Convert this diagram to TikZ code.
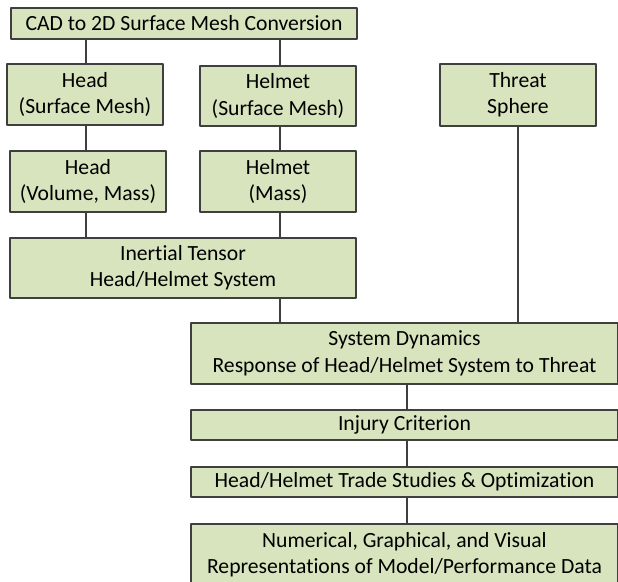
\documentclass[tikz,border=0pt]{standalone}
\usepackage{fontspec}
\setmainfont{Carlito}[Ligatures=NoCommon]
\definecolor{boxgreen}{HTML}{D7E4BD}
\definecolor{edgegray}{HTML}{3F3F3F}
\begin{document}
\begin{tikzpicture}[x=0.025cm, y=-0.025cm, font=\fontsize{15.4}{18.8}\selectfont, line join=round,
	box/.style={draw=edgegray, fill=boxgreen, line width=1pt, align=center, inner sep=0pt},
	link/.style={draw=edgegray, line width=1.3pt}]
			\useasboundingbox (0,0) rectangle (618,582);
			% top row
			\node (cad) [box, minimum width=346*0.025cm, minimum height=31*0.025cm] at (184,23.5) {CAD to 2D Surface Mesh Conversion};
			\node (hsm) [box, minimum width=156*0.025cm, minimum height=61*0.025cm] at (85,94.5) {Head\\(Surface Mesh)};
			\node (msm) [box, minimum width=156*0.025cm, minimum height=60*0.025cm] at (278,96) {Helmet\\(Surface Mesh)};
			\node (thr) [box, minimum width=156*0.025cm, minimum height=62*0.025cm] at (518,95) {Threat\\Sphere};
			\node (hvm) [box, minimum width=156*0.025cm, minimum height=61*0.025cm] at (88,181.5) {Head\\(Volume, Mass)};
			\node (mms) [box, minimum width=156*0.025cm, minimum height=61*0.025cm] at (278,181.5) {Helmet\\(Mass)};
			\node (ten) [box, minimum width=346*0.025cm, minimum height=60*0.025cm] at (183,268) {Inertial Tensor\\Head/Helmet System};
			% lower chain
			\node (dyn) [box, minimum width=427*0.025cm, minimum height=61*0.025cm] at (404.5,353.5) {System Dynamics\\Response of Head/Helmet System to Threat};
			\node (inj) [box, minimum width=427*0.025cm, minimum height=30*0.025cm] at (404.5,425) {Injury Criterion};
			\node (trd) [box, minimum width=427*0.025cm, minimum height=30*0.025cm] at (404.5,482) {Head/Helmet Trade Studies \& Optimization};
			\node (num) [box, minimum width=427*0.025cm, minimum height=62*0.025cm] at (404.5,555) {Numerical, Graphical, and Visual\\Representations of Model/Performance Data};
			% connectors
			\coordinate (lx) at (86,0);\coordinate (mx) at (280,0);
			\draw[link] (cad.south -| lx)--(hsm.north -| lx);
			\draw[link] (cad.south -| mx)--(msm.north -| mx);
			\draw[link] (hsm.south -| lx)--(hvm.north -| lx);
			\draw[link] (msm.south -| mx)--(mms.north -| mx);
			\draw[link] (hvm.south -| lx)--(ten.north -| lx);
			\draw[link] (mms.south -| mx)--(ten.north -| mx);
			\draw[link] (ten.south -| mx)--(dyn.north -| mx);
			\draw[link] (thr.south)--(dyn.north -| thr.south);
			\coordinate (bx) at (407,0);
			\draw[link] (dyn.south -| bx)--(inj.north -| bx);
			\draw[link] (inj.south -| bx)--(trd.north -| bx);
			\draw[link] (trd.south -| bx)--(num.north -| bx);
	\end{tikzpicture}
\end{document}
